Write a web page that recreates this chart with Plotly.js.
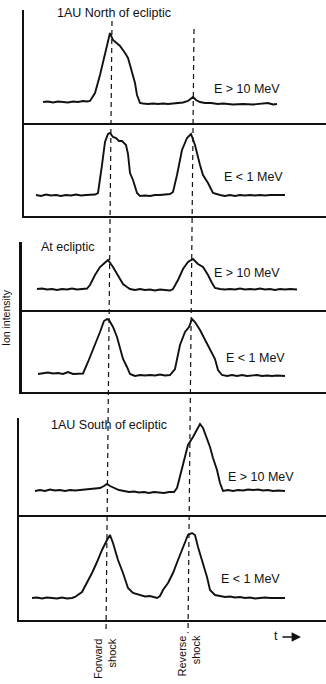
<!DOCTYPE html>
<html>
<head>
<meta charset="utf-8">
<script src="https://cdn.plot.ly/plotly-3.0.1.min.js"></script>
<style>
  html, body { margin: 0; padding: 0; background: #ffffff; }
  #chart { width: 326px; height: 684px; }
</style>
</head>
<body>
<div id="chart"></div>
<script>
// ---- Data (time in arbitrary units, ion intensity in arbitrary units) ----
// 1 AU North of ecliptic, E > 10 MeV
const northHighT = [20,25,30,35,40,45,50,55,60,64,67,72,77,82,86,87,90,94,97,102,105,107,110,112,114,117,120,125,130,135,140,145,150,155,160,165,168,170,173,177,182,188,195,200,210,220,230,240,245,250,254];
const northHighI = [21,21.5,20.5,21.5,21,20.5,21.5,21,22,21.5,22,30,48,68,86,90,83,80,77,70,65,58,46,40,28,20,19.5,19,19.5,19,19.5,19,19.5,20,20.5,22,24,26,23,21,20,20,19,19.5,18.5,19,18.5,19,20,18.5,19];
// 1 AU North of ecliptic, E < 1 MeV
const northLowT = [13,18,23,28,33,38,43,48,53,58,63,68,72,75,77,79,82,85,87,90,93,96,99,103,105,107,110,114,117,122,127,132,137,142,147,150,154,159,164,168,172,177,180,185,190,197,202,207,212,217,222,227,232,237,242,247,252,257,262];
const northLowI = [21,20,21.5,20.5,21,20,21,20.5,21.5,20.5,21,21,21.5,23,35,51,74,82,83,79,78,75,75,71,62,43,36,23,20,20.5,20,21,21,21.5,22,24,41,66,78,82,71,51,41,33,23,21,20,21,20,21,20.5,21,20.5,21,20.5,21,21,20.5,21];
// At ecliptic, E > 10 MeV
const eclHighT = [14,19,24,29,34,39,44,49,54,59,64,67,72,77,82,85,90,95,100,104,107,112,117,122,127,132,137,142,147,150,155,160,165,170,175,180,185,189,192,197,202,207,212,217,222,227,232,237,242,247,252,257,262,267,274];
const eclHighI = [21,21.5,20.5,21,20,21,20.5,21.5,20.5,21,21.5,25,35,43,48,50,43,35,26,23,21,20,21,20,20.5,19.5,20.5,20,19.5,21,30,41,48,51,46,43,35,27,22,21,20.5,21,20.5,21.5,20.5,21,20.5,21.5,20.5,21,20,21,20.5,21,20.5];
// At ecliptic, E < 1 MeV
const eclLowT = [15,20,25,30,35,40,45,50,55,60,65,72,77,81,84,86,90,94,97,100,104,107,112,117,122,127,132,137,142,147,152,157,162,166,169,172,177,182,187,192,195,199,204,209,214,219,224,229,234,239,244,249,254,262];
const eclLowI = [18,18.5,19.5,18.5,19,18,20,18,18.5,18.5,30,47,60,71,73,72,65,55,43,33,25,18,16,17,16.5,17,16.5,17.5,16.5,17,23,47,60,65,73,70,62,52,43,33,22,17,16,17,16,17,16,16.5,17,16,16.5,16,16.5,16];
// 1 AU South of ecliptic, E > 10 MeV
const southHighT = [12,17,22,27,32,37,42,47,52,57,62,67,72,77,81,84,87,91,96,101,106,111,116,121,126,131,136,141,146,151,154,157,161,165,170,174,177,180,184,187,190,194,197,200,205,210,215,220,225,230,235,240,245,250,255,262];
const southHighI = [24,25,24,25.5,24.5,25,24,25,24.5,25,25,25.5,26,27,29,31,29,27,25,24,23,23.5,22.5,23,22,23,22.5,22,23,23,27,38,55,70,78,85,91,87,77,68,57,45,32,24,25,24,25,24.5,25.5,25,25.5,24.5,25,24,24.5,24];
// 1 AU South of ecliptic, E < 1 MeV
const southLowT = [9,14,19,24,29,34,39,44,49,52,59,64,69,74,79,84,87,90,95,100,105,110,117,122,127,134,137,140,145,150,155,160,165,169,172,175,179,184,187,192,197,202,207,212,217,222,227,232,237,242,247,254,262];
const southLowI = [22,22.5,21.5,22.5,22,21.5,22.5,21.5,22,23,28,37,47,58,70,80,85,77,60,47,32,27,25,23.5,24,22,24,30,37,47,60,73,85,87,85,73,60,43,30,25,24,23,23.5,22.5,23,22,22.5,21.5,22,22.5,22,22,22];

// Shock times
const shockTimes = [86, 168];
const shockLabels = ["Forward<br>shock", "Reverse<br>shock"];
const panelTitles = ["1AU North of ecliptic", "At ecliptic", "1AU South of ecliptic"];
const energyLabels = ["E > 10 MeV", "E < 1 MeV"];

// ---- Layout helpers (pixel geometry of the page) ----
const W = 326, H = 684;
const px = v => v / W;
const py = v => 1 - v / H;
const FONT = "'Liberation Sans', Arial, Helvetica, sans-serif";
const INK = '#111111';

// subplot geometry: [top, bottom, left] in page pixels
const geom = [
  [10, 123, 24], [123, 216, 24],
  [242, 310, 21.5], [310, 392, 21.5],
  [418, 515, 19], [515, 620, 19]
];
const T0 = 23; // page pixel where t = 0

const series = [
  [northHighT, northHighI], [northLowT, northLowI],
  [eclHighT, eclHighI], [eclLowT, eclLowI],
  [southHighT, southHighI], [southLowT, southLowI]
];

const traces = series.map((s, k) => ({
  type: 'scatter', mode: 'lines',
  x: s[0], y: s[1],
  xaxis: k === 0 ? 'x' : 'x' + (k + 1),
  yaxis: k === 0 ? 'y' : 'y' + (k + 1),
  line: { color: INK, width: 1.9, shape: 'linear' },
  hoverinfo: 'skip', showlegend: false
}));

const layout = {
  width: W, height: H,
  margin: { l: 0, r: 0, t: 0, b: 0, pad: 0 },
  paper_bgcolor: '#ffffff', plot_bgcolor: 'rgba(0,0,0,0)',
  font: { family: FONT, size: 12, color: INK },
  showlegend: false,
  shapes: [], annotations: []
};

geom.forEach((g, k) => {
  const [top, bottom, left] = g;
  const xn = k === 0 ? 'xaxis' : 'xaxis' + (k + 1);
  const yn = k === 0 ? 'yaxis' : 'yaxis' + (k + 1);
  layout[xn] = {
    domain: [px(left), 1],
    range: [left - T0, W - T0],
    anchor: k === 0 ? 'y' : 'y' + (k + 1),
    showline: true, linecolor: INK, linewidth: 2.2,
    showgrid: false, zeroline: false, showticklabels: false, ticks: '',
    fixedrange: true
  };
  layout[yn] = {
    domain: [py(bottom), py(top)],
    range: [0, bottom - top],
    anchor: k === 0 ? 'x' : 'x' + (k + 1),
    showline: true, linecolor: INK, linewidth: 2.2,
    showgrid: false, zeroline: false, showticklabels: false, ticks: '',
    fixedrange: true
  };
});

// dashed shock lines (scan is very slightly tilted)
const TILT = 3;
const shockTops = [21, 29];
shockTimes.forEach((t, i) => {
  layout.shapes.push({
    type: 'line', xref: 'x', yref: 'paper',
    x0: t + TILT, x1: t - TILT,
    y0: py(shockTops[i]), y1: py(633),
    line: { color: INK, width: 1.2, dash: '5px,4px' }
  });
});

function label(text, x, y, opts) {
  layout.annotations.push(Object.assign({
    text: text, xref: 'paper', yref: 'paper',
    x: px(x), y: py(y), xanchor: 'left', yanchor: 'middle',
    showarrow: false, font: { family: FONT, size: 12.5, color: INK }
  }, opts || {}));
}

// panel titles
label(panelTitles[0], 55, 13);
label(panelTitles[1], 39, 247);
label(panelTitles[2], 49, 425);
// energy labels
label(energyLabels[0], 212, 89);
label(energyLabels[1], 222, 177);
label(energyLabels[0], 212, 273);
label(energyLabels[1], 224, 358);
label(energyLabels[0], 226, 477);
label(energyLabels[1], 219, 579);
// y title
label('Ion intensity', 6, 318, { xanchor: 'center', textangle: -90, font: { family: FONT, size: 10.5, color: INK } });
// shock labels
label(shockLabels[0], 105, 658, { xanchor: 'center', textangle: -90, align: 'right', font: { family: FONT, size: 11, color: INK } });
label(shockLabels[1], 188.5, 656, { xanchor: 'center', textangle: -90, align: 'right', font: { family: FONT, size: 11, color: INK } });
// time arrow
label('t', 272, 636, { font: { family: FONT, size: 12.5, color: INK } });
layout.annotations.push({
  text: '', xref: 'paper', yref: 'paper', x: px(301), y: py(637),
  ax: -20, ay: 0, showarrow: true, arrowhead: 2, arrowsize: 1.1,
  arrowwidth: 1.7, arrowcolor: INK
});

Plotly.newPlot('chart', traces, layout, { staticPlot: true, displayModeBar: false });
</script>
</body>
</html>
